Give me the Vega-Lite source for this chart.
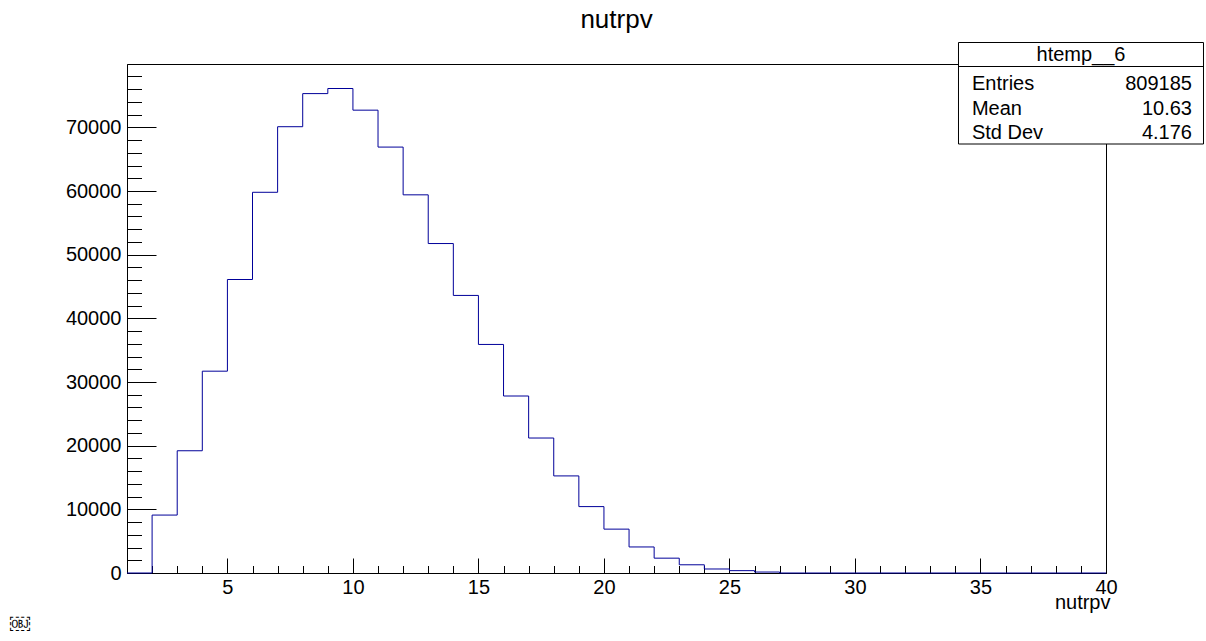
{
  "$schema": "https://vega.github.io/schema/vega-lite/v6.json",
  "width": 979,
  "height": 509,
  "autosize": {"type": "none"},
  "padding": {"left": 127, "top": 64, "right": 100, "bottom": 68},
  "background": "white",
  "title": {"text": "nutrpv", "fontSize": 26, "font": "Liberation Sans", "fontWeight": "normal", "anchor": "middle", "frame": "group", "offset": 9, "color": "black"},
  "config": {
    "view": {"stroke": "black", "strokeWidth": 1},
    "font": "Liberation Sans",
    "text": {"font": "Liberation Sans", "color": "black"}
  },
  "resolve": {"scale": {"x": "shared", "y": "shared"}, "axis": {"x": "independent", "y": "independent"}},
  "layer": [
    {
      "data": {"values": [
        {"nutrpv": 1, "count": 0},
        {"nutrpv": 2, "count": 9100},
        {"nutrpv": 3, "count": 19200},
        {"nutrpv": 4, "count": 31700},
        {"nutrpv": 5, "count": 46100},
        {"nutrpv": 6, "count": 59800},
        {"nutrpv": 7, "count": 70100},
        {"nutrpv": 8, "count": 75300},
        {"nutrpv": 9, "count": 76100},
        {"nutrpv": 10, "count": 72700},
        {"nutrpv": 11, "count": 66900},
        {"nutrpv": 12, "count": 59400},
        {"nutrpv": 13, "count": 51750},
        {"nutrpv": 14, "count": 43600},
        {"nutrpv": 15, "count": 35900},
        {"nutrpv": 16, "count": 27800},
        {"nutrpv": 17, "count": 21200},
        {"nutrpv": 18, "count": 15250},
        {"nutrpv": 19, "count": 10430},
        {"nutrpv": 20, "count": 6890},
        {"nutrpv": 21, "count": 4090},
        {"nutrpv": 22, "count": 2330},
        {"nutrpv": 23, "count": 1290},
        {"nutrpv": 24, "count": 630},
        {"nutrpv": 25, "count": 370},
        {"nutrpv": 26, "count": 150},
        {"nutrpv": 27, "count": 0},
        {"nutrpv": 28, "count": 0},
        {"nutrpv": 29, "count": 0},
        {"nutrpv": 30, "count": 0},
        {"nutrpv": 31, "count": 0},
        {"nutrpv": 32, "count": 0},
        {"nutrpv": 33, "count": 0},
        {"nutrpv": 34, "count": 0},
        {"nutrpv": 35, "count": 0},
        {"nutrpv": 36, "count": 0},
        {"nutrpv": 37, "count": 0},
        {"nutrpv": 38, "count": 0},
        {"nutrpv": 39, "count": 0},
        {"nutrpv": 40, "count": 0}
      ]},
      "mark": {"type": "line", "interpolate": "step-after", "color": "#000099", "strokeWidth": 1},
      "encoding": {
        "x": {
          "field": "nutrpv", "type": "quantitative",
          "scale": {"domain": [1, 40], "nice": false, "zero": false},
          "axis": {
            "orient": "bottom",
            "values": [2,3,4,5,6,7,8,9,10,11,12,13,14,15,16,17,18,19,20,21,22,23,24,25,26,27,28,29,30,31,32,33,34,35,36,37,38,39,40],
            "tickSize": {"condition": {"test": "datum.value % 5 === 0", "value": -15}, "value": -7.5},
            "labelExpr": "datum.value % 5 === 0 ? datum.label : ''",
            "format": "d",
            "labelPadding": 19,
            "labelFontSize": 20,
            "labelFont": "Liberation Sans",
            "labelColor": "black",
            "labelFlush": false,
            "labelOverlap": false,
            "tickColor": "black",
            "domainColor": "black",
            "grid": false,
            "title": "nutrpv",
            "titleFont": "Liberation Sans",
            "titleFontSize": 20,
            "titleFontWeight": "normal",
            "titleColor": "black",
            "titleAnchor": "end",
            "titleAlign": "right",
            "titleX": 983,
            "titleY": 35,
            "titleBaseline": "alphabetic"
          }
        },
        "y": {
          "field": "count", "type": "quantitative",
          "scale": {"domain": [0, 79950], "nice": false},
          "axis": {
            "orient": "left",
            "values": [0,2000,4000,6000,8000,10000,12000,14000,16000,18000,20000,22000,24000,26000,28000,30000,32000,34000,36000,38000,40000,42000,44000,46000,48000,50000,52000,54000,56000,58000,60000,62000,64000,66000,68000,70000,72000,74000,76000,78000],
            "tickSize": {"condition": {"test": "datum.value % 10000 === 0", "value": -29}, "value": -14.5},
            "labelExpr": "datum.value % 10000 === 0 ? datum.label : ''",
            "format": "d",
            "labelPadding": 35,
            "labelFontSize": 20,
            "labelFont": "Liberation Sans",
            "labelColor": "black",
            "labelFlush": false,
            "labelOverlap": false,
            "tickColor": "black",
            "domainColor": "black",
            "grid": false,
            "title": null
          }
        }
      }
    },
    {
      "data": {"values": [{}]},
      "mark": {"type": "rect", "fill": "white", "stroke": "black", "strokeWidth": 1, "clip": false},
      "encoding": {
        "x": {"datum": 34.124, "type": "quantitative", "scale": {"domain": [1, 40], "nice": false, "zero": false}, "axis": null},
        "x2": {"datum": 43.884},
        "y": {"datum": 83326, "type": "quantitative", "scale": {"domain": [0, 79950], "nice": false}, "axis": null},
        "y2": {"datum": 67383}
      }
    },
    {
      "data": {"values": [{}]},
      "mark": {"type": "rule", "stroke": "black", "strokeWidth": 1, "clip": false},
      "encoding": {
        "x": {"datum": 34.124, "type": "quantitative", "scale": {"domain": [1, 40], "nice": false, "zero": false}, "axis": null},
        "x2": {"datum": 43.884},
        "y": {"datum": 79556, "type": "quantitative", "scale": {"domain": [0, 79950], "nice": false}, "axis": null}
      }
    },
    {
      "data": {"values": [{"label": "htemp__6"}]},
      "mark": {"type": "text", "align": "center", "baseline": "alphabetic", "fontSize": 20, "clip": false},
      "encoding": {
        "text": {"field": "label"},
        "x": {"datum": 39.004, "type": "quantitative", "scale": {"domain": [1, 40], "nice": false, "zero": false}, "axis": null},
        "y": {"datum": 80420, "type": "quantitative", "scale": {"domain": [0, 79950], "nice": false}, "axis": null}
      }
    },
    {
      "data": {"values": [{"label": "Entries", "value": "809185"}]},
      "layer": [
        {"mark": {"type": "text", "align": "left", "baseline": "alphabetic", "fontSize": 20, "clip": false},
         "encoding": {"text": {"field": "label"},
           "x": {"datum": 34.66, "type": "quantitative", "scale": {"domain": [1, 40], "nice": false, "zero": false}, "axis": null},
           "y": {"datum": 75865, "type": "quantitative", "scale": {"domain": [0, 79950], "nice": false}, "axis": null}}},
        {"mark": {"type": "text", "align": "right", "baseline": "alphabetic", "fontSize": 20, "clip": false},
         "encoding": {"text": {"field": "value"},
           "x": {"datum": 43.426, "type": "quantitative", "scale": {"domain": [1, 40], "nice": false, "zero": false}, "axis": null},
           "y": {"datum": 75865, "type": "quantitative", "scale": {"domain": [0, 79950], "nice": false}, "axis": null}}}
      ]
    },
    {
      "data": {"values": [{"label": "Mean", "value": "10.63"}]},
      "layer": [
        {"mark": {"type": "text", "align": "left", "baseline": "alphabetic", "fontSize": 20, "clip": false},
         "encoding": {"text": {"field": "label"},
           "x": {"datum": 34.66, "type": "quantitative", "scale": {"domain": [1, 40], "nice": false, "zero": false}, "axis": null},
           "y": {"datum": 72017, "type": "quantitative", "scale": {"domain": [0, 79950], "nice": false}, "axis": null}}},
        {"mark": {"type": "text", "align": "right", "baseline": "alphabetic", "fontSize": 20, "clip": false},
         "encoding": {"text": {"field": "value"},
           "x": {"datum": 43.426, "type": "quantitative", "scale": {"domain": [1, 40], "nice": false, "zero": false}, "axis": null},
           "y": {"datum": 72017, "type": "quantitative", "scale": {"domain": [0, 79950], "nice": false}, "axis": null}}}
      ]
    },
    {
      "data": {"values": [{"label": "Std Dev", "value": "4.176"}]},
      "layer": [
        {"mark": {"type": "text", "align": "left", "baseline": "alphabetic", "fontSize": 20, "clip": false},
         "encoding": {"text": {"field": "label"},
           "x": {"datum": 34.66, "type": "quantitative", "scale": {"domain": [1, 40], "nice": false, "zero": false}, "axis": null},
           "y": {"datum": 68247, "type": "quantitative", "scale": {"domain": [0, 79950], "nice": false}, "axis": null}}},
        {"mark": {"type": "text", "align": "right", "baseline": "alphabetic", "fontSize": 20, "clip": false},
         "encoding": {"text": {"field": "value"},
           "x": {"datum": 43.426, "type": "quantitative", "scale": {"domain": [1, 40], "nice": false, "zero": false}, "axis": null},
           "y": {"datum": 68247, "type": "quantitative", "scale": {"domain": [0, 79950], "nice": false}, "axis": null}}}
      ]
    },
    {
      "data": {"values": [{"label": "\ufffc"}]},
      "mark": {"type": "text", "align": "center", "baseline": "middle", "fontSize": 20, "clip": false},
      "encoding": {
        "text": {"field": "label"},
        "x": {"datum": -3.26, "type": "quantitative", "scale": {"domain": [1, 40], "nice": false, "zero": false}, "axis": null},
        "y": {"datum": -8168, "type": "quantitative", "scale": {"domain": [0, 79950], "nice": false}, "axis": null}
      }
    }
  ]
}
